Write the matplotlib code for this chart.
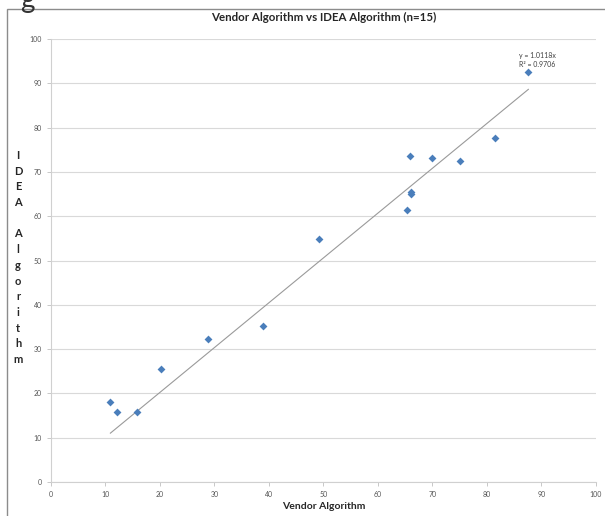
import numpy as np
import matplotlib
matplotlib.use("Agg")
import matplotlib.pyplot as plt
from matplotlib.patches import Rectangle

# Data
vendor = [10.9, 12.05, 15.7, 20.2, 28.75, 38.9, 49.1, 65.3, 66.05, 66.05, 65.8, 70.0, 75.0, 81.5, 87.6]
idea = [18.1, 15.7, 15.7, 25.4, 32.2, 35.3, 54.85, 61.4, 64.9, 65.5, 73.5, 73.2, 72.5, 77.7, 92.6]
slope = 1.0118
r2 = 0.9706
ticks = list(range(0, 101, 10))
ylabel_letters = ["I", "D", "E", "A", "", "A", "l", "g", "o", "r", "i", "t", "h", "m"]

plt.rcParams['font.family'] = ['Lato', 'DejaVu Sans']

fig = plt.figure(figsize=(6.05, 5.16), dpi=100)
ax = fig.add_axes([0.0843, 0.0659, 0.9007, 0.8585])

# outer chart frame
fig.patches.append(Rectangle((7 / 605, -0.01), 1.0, 0.9926, transform=fig.transFigure,
                             fill=False, edgecolor='#8c8c8c', linewidth=1.0))
# clipped caption fragment at the top
fig.text(0.033, 1.0, "g", fontsize=20, color='#333333', va='center', ha='left')

ax.set_xlim(0, 100)
ax.set_ylim(0, 100)
ax.set_xticks(ticks)
ax.set_yticks(ticks)
ax.tick_params(labelsize=5, colors='#bfbfbf', labelcolor='#555555', length=3, width=0.6)
ax.grid(axis='y', color='#d9d9d9', linewidth=0.8)
ax.set_axisbelow(True)
for side in ['top', 'right']:
    ax.spines[side].set_visible(False)
for side in ['left', 'bottom']:
    ax.spines[side].set_color('#d0d0d0')
    ax.spines[side].set_linewidth(0.8)

ax.scatter(vendor, idea, marker='D', s=16, color='#4a7ebb', zorder=3, linewidths=0)

xs = np.array([min(vendor), max(vendor)])
ax.plot(xs, slope * xs, color='#9a9a9a', linewidth=0.8, zorder=2)

ax.text(85.8, 97.0, f"y = {slope}x\nR² = {r2}", fontsize=5, color='#404040',
        ha='left', va='top', linespacing=1.3)

ax.set_title("Vendor Algorithm vs IDEA Algorithm (n=15)", fontsize=8.3, fontweight='bold',
             color='#262626', pad=13)
ax.set_xlabel("Vendor Algorithm", fontsize=7.5, fontweight='bold', color='#262626', labelpad=3)

fig.text(0.030, 0.501, "\n".join(ylabel_letters), fontsize=8, fontweight='bold', color='#262626',
         ha='center', va='center', linespacing=1.52)

fig.savefig("out.png", dpi=100)
